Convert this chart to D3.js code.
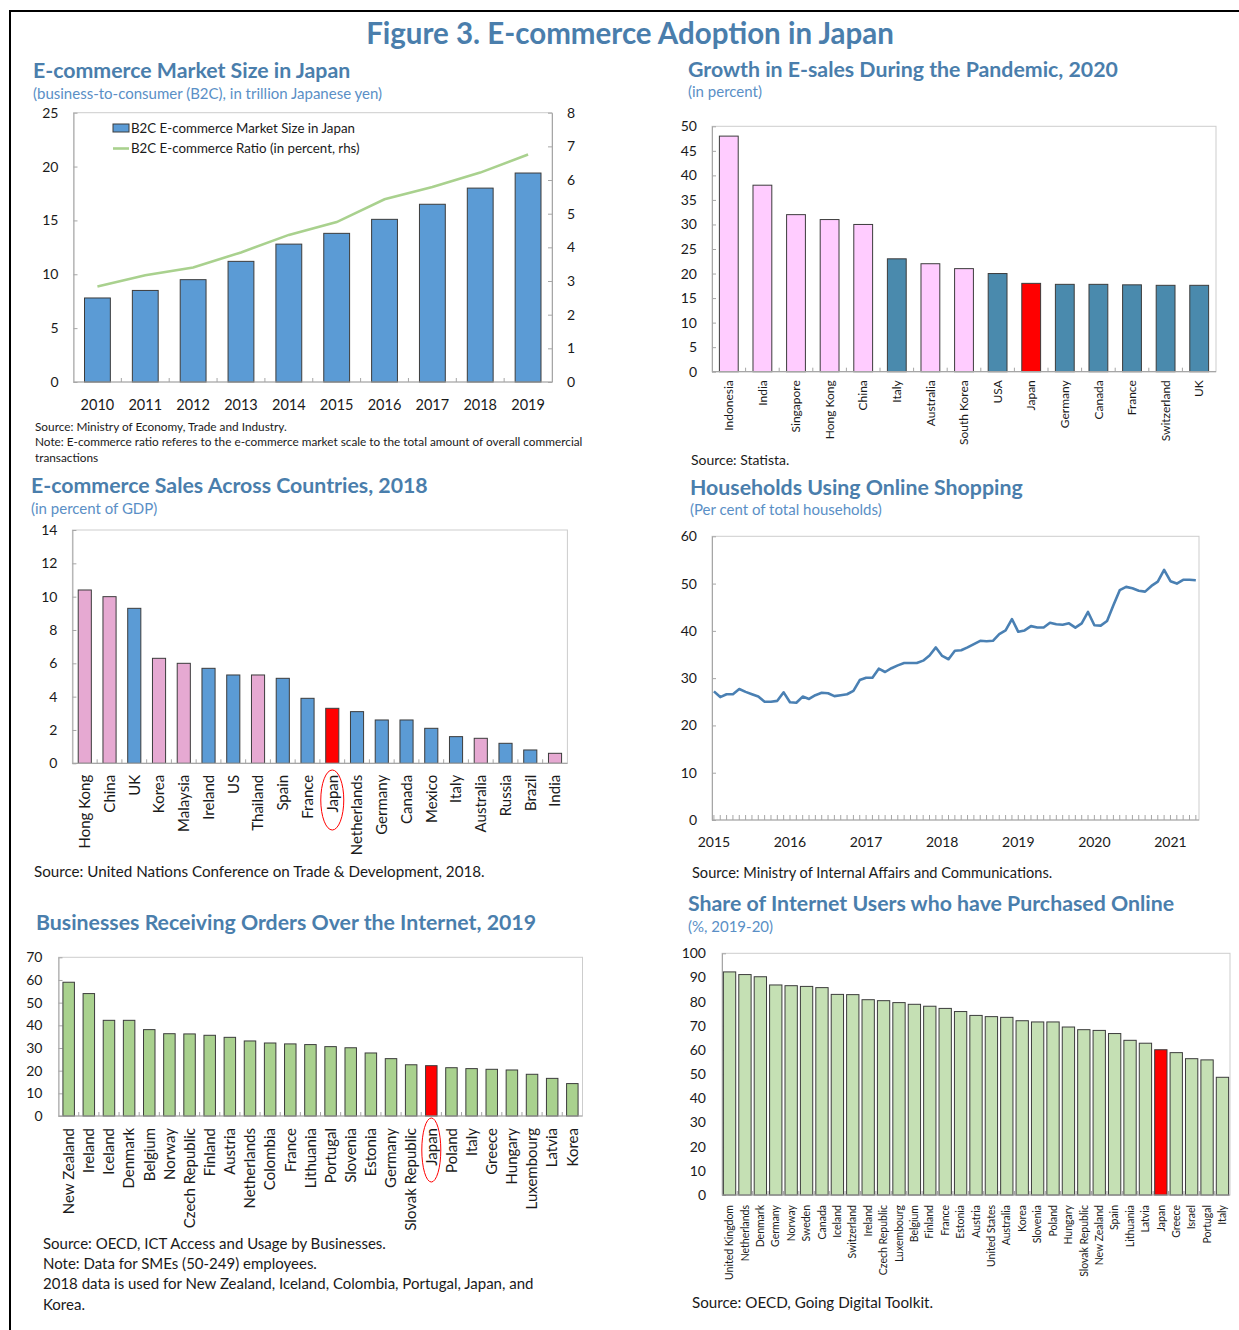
<!DOCTYPE html>
<html>
<head>
<meta charset="utf-8">
<script src="https://cdn.jsdelivr.net/npm/d3@7"></script>
<style>
  body { margin: 0; background: #ffffff; }
  svg text { font-family: Lato, "Open Sans", "DejaVu Sans", sans-serif; }
</style>
</head>
<body>
<svg id="fig" width="1239" height="1330"></svg>
<script>
// ---------- Data ----------
// B2C e-commerce market size (trillion yen) and e-commerce ratio (%)
const marketYears = ["2010","2011","2012","2013","2014","2015","2016","2017","2018","2019"];
const marketSize  = [7.8, 8.5, 9.5, 11.2, 12.8, 13.8, 15.1, 16.5, 18.0, 19.4];
const marketRatio = [2.84, 3.17, 3.40, 3.85, 4.37, 4.75, 5.43, 5.79, 6.22, 6.76];
const marketTicksL = [0, 5, 10, 15, 20, 25];
const marketTicksR = [0, 1, 2, 3, 4, 5, 6, 7, 8];

// Growth in e-sales during the pandemic, 2020 (%)
const growthCountries = ["Indonesia","India","Singapore","Hong Kong","China","Italy","Australia",
  "South Korea","USA","Japan","Germany","Canada","France","Switzerland","UK"];
const growthValues = [48, 38, 32, 31, 30, 23, 22, 21, 20, 18, 17.8, 17.8, 17.7, 17.6, 17.6];
const growthGroup  = ["asia","asia","asia","asia","asia","adv","asia","asia","adv","japan",
  "adv","adv","adv","adv","adv"];
const growthTicks = [0, 5, 10, 15, 20, 25, 30, 35, 40, 45, 50];

// E-commerce sales across countries, 2018 (% of GDP)
const salesCountries = ["Hong Kong","China","UK","Korea","Malaysia","Ireland","US","Thailand","Spain",
  "France","Japan","Netherlands","Germany","Canada","Mexico","Italy","Australia","Russia","Brazil","India"];
const salesValues = [10.4, 10.0, 9.3, 6.3, 6.0, 5.7, 5.3, 5.3, 5.1, 3.9, 3.3, 3.1, 2.6, 2.6, 2.1, 1.6, 1.5, 1.2, 0.8, 0.6];
const salesGroup  = ["asia","asia","adv","asia","asia","adv","adv","asia","adv","adv","japan",
  "adv","adv","adv","adv","adv","asia","adv","adv","asia"];
const salesTicks = [0, 2, 4, 6, 8, 10, 12, 14];

// Households using online shopping, monthly from Jan 2015 (% of households)
const householdYears = ["2015","2016","2017","2018","2019","2020","2021"];
const householdShare = [
  27.2, 26.0, 26.6, 26.6, 27.7, 27.1, 26.6, 26.1, 25.0, 25.0, 25.2, 27.0,
  24.9, 24.8, 26.1, 25.6, 26.4, 26.9, 26.8, 26.2, 26.4, 26.6, 27.3, 29.6,
  30.1, 30.1, 32.0, 31.3, 32.1, 32.7, 33.2, 33.2, 33.2, 33.7, 34.8, 36.5,
  34.7, 34.0, 35.8, 35.9, 36.5, 37.2, 37.9, 37.8, 37.9, 39.3, 40.1, 42.5,
  39.8, 40.1, 41.0, 40.7, 40.7, 41.7, 41.4, 41.3, 41.6, 40.7, 41.6, 44.0,
  41.2, 41.1, 42.1, 45.4, 48.6, 49.3, 49.0, 48.5, 48.3, 49.5, 50.4, 52.9,
  50.5, 50.0, 50.8, 50.8, 50.7
];
const householdTicks = [0, 10, 20, 30, 40, 50, 60];

// Businesses receiving orders over the internet, 2019 (% of SMEs)
const bizCountries = ["New Zealand","Ireland","Iceland","Denmark","Belgium","Norway","Czech Republic",
  "Finland","Austria","Netherlands","Colombia","France","Lithuania","Portugal","Slovenia","Estonia",
  "Germany","Slovak Republic","Japan","Poland","Italy","Greece","Hungary","Luxembourg","Latvia","Korea"];
const bizValues = [59.0, 54.0, 42.2, 42.2, 38.1, 36.3, 36.2, 35.6, 34.7, 33.1, 32.2, 31.8, 31.5,
  30.6, 30.1, 27.8, 25.3, 22.6, 22.2, 21.3, 20.9, 20.6, 20.3, 18.4, 16.6, 14.3];
const bizTicks = [0, 10, 20, 30, 40, 50, 60, 70];

// Share of internet users who have purchased online, 2019-20 (%)
const buyCountries = ["United Kingdom","Netherlands","Denmark","Germany","Norway","Sweden","Canada",
  "Iceland","Switzerland","Ireland","Czech Republic","Luxembourg","Belgium","Finland","France","Estonia",
  "Austria","United States","Australia","Korea","Slovenia","Poland","Hungary","Slovak Republic",
  "New Zealand","Spain","Lithuania","Latvia","Japan","Greece","Israel","Portugal","Italy"];
const buyValues = [92.3, 91.2, 90.3, 86.9, 86.6, 86.3, 85.8, 83.0, 82.9, 80.8, 80.4, 79.6, 78.9, 78.1,
  77.2, 75.9, 74.3, 73.8, 73.5, 72.1, 71.6, 71.6, 69.5, 68.4, 68.1, 66.8, 64.0, 62.8, 60.1, 58.9,
  56.4, 55.9, 48.7];
const buyTicks = [0, 10, 20, 30, 40, 50, 60, 70, 80, 90, 100];

// ---------- Styles ----------
const TITLE_BLUE = "#4a7eac";
const SUB_BLUE = "#5a8fc6";
const BOX = "#cdcdcd";
const AXIS = "#a6a6a6";
const EDGE = "#3c3c3c";
const INK = "#1a1a1a";
const RED = "#ff0000";

const svg = d3.select("#fig");
svg.append("rect").attr("width", 1239).attr("height", 1330).attr("fill", "#ffffff");

// outer figure frame (top and left rules)
svg.append("line").attr("x1", 9).attr("x2", 1239).attr("y1", 11).attr("y2", 11)
  .attr("stroke", "#000").attr("stroke-width", 2);
svg.append("line").attr("x1", 10).attr("x2", 10).attr("y1", 10).attr("y2", 1330)
  .attr("stroke", "#000").attr("stroke-width", 2);

function text(x, y, str, opts = {}) {
  return svg.append("text")
    .attr("x", x).attr("y", y).attr("dy", "0.35em")
    .attr("font-size", opts.size || 14)
    .attr("font-weight", opts.weight || "normal")
    .attr("fill", opts.fill || INK)
    .attr("text-anchor", opts.anchor || "start")
    .text(str);
}

svg.append("text").attr("x", 630).attr("y", 34).attr("dy", "0.35em")
  .attr("text-anchor", "middle").attr("font-size", 29.5).attr("font-weight", "bold")
  .attr("fill", TITLE_BLUE).text("Figure 3. E-commerce Adoption in Japan");

function panelTitle(x, y, str) { return text(x, y, str, { size: 21.3, weight: "bold", fill: TITLE_BLUE }); }
function panelSub(x, y, str) { return text(x, y, str, { size: 15, fill: SUB_BLUE }); }

function styleAxis(g, size) {
  g.select(".domain").attr("stroke", AXIS);
  g.selectAll(".tick line").attr("stroke", AXIS);
  g.selectAll(".tick text").attr("font-size", size).attr("fill", INK)
    .attr("font-family", "Lato, 'Open Sans', sans-serif");
}

function plotBox(g, x0, x1, y0, y1) {
  g.append("rect").attr("x", x0).attr("y", y0).attr("width", x1 - x0).attr("height", y1 - y0)
    .attr("fill", "none").attr("stroke", BOX).attr("stroke-width", 1);
}

// Generic vertical bar panel with rotated category labels
function barPanel(o) {
  const g = svg.append("g");
  const x = d3.scaleBand().domain(o.cats).range([o.x0, o.x1])
    .paddingInner(o.pi).paddingOuter(o.po);
  const y = d3.scaleLinear().domain([0, o.ticks[o.ticks.length - 1]]).range([o.y1, o.y0]);
  plotBox(g, o.x0, o.x1, o.y0, o.y1);

  const ay = g.append("g").attr("transform", `translate(${o.x0},0)`)
    .call(d3.axisLeft(y).tickValues(o.ticks).tickSizeInner(-4).tickSizeOuter(0).tickPadding(o.tp));
  styleAxis(ay, 14);

  g.append("g").selectAll("rect").data(o.vals).join("rect")
    .attr("x", (d, i) => x(o.cats[i]))
    .attr("width", x.bandwidth())
    .attr("y", d => y(d))
    .attr("height", d => y(0) - y(d))
    .attr("fill", (d, i) => o.color(i))
    .attr("stroke", EDGE).attr("stroke-width", 1);

  // baseline and small inside ticks between categories
  g.append("line").attr("x1", o.x0).attr("x2", o.x1).attr("y1", y(0)).attr("y2", y(0))
    .attr("stroke", AXIS).attr("stroke-width", 1.2);
  const gap = (x.step() - x.bandwidth()) / 2;
  g.append("g").selectAll("line").data(o.cats.slice(0, -1)).join("line")
    .attr("x1", c => x(c) + x.bandwidth() + gap).attr("x2", c => x(c) + x.bandwidth() + gap)
    .attr("y1", y(0)).attr("y2", y(0) - 4).attr("stroke", AXIS);

  g.append("g").selectAll("text").data(o.cats).join("text")
    .attr("transform", c => `translate(${x(c) + x.bandwidth() / 2},${o.y1 + o.lg}) rotate(-90)`)
    .attr("text-anchor", "end").attr("dy", "0.35em")
    .attr("font-size", o.lf).attr("fill", INK)
    .text(c => c);
  return { g, x, y };
}

// ---------- Panel 1: market size ----------
panelTitle(33, 71, "E-commerce Market Size in Japan");
panelSub(33, 94, "(business-to-consumer (B2C), in trillion Japanese yen)");
{
  const x0 = 73.5, x1 = 552, y0 = 112.7, y1 = 382;
  const g = svg.append("g");
  const x = d3.scaleBand().domain(marketYears).range([x0, x1]).paddingInner(0.46).paddingOuter(0.23);
  const yL = d3.scaleLinear().domain([0, 25]).range([y1, y0]);
  const yR = d3.scaleLinear().domain([0, 8]).range([y1, y0]);
  plotBox(g, x0, x1, y0, y1);
  const aL = g.append("g").attr("transform", `translate(${x0},0)`)
    .call(d3.axisLeft(yL).tickValues(marketTicksL).tickSizeInner(-4).tickSizeOuter(0).tickPadding(15));
  styleAxis(aL, 14);
  const aR = g.append("g").attr("transform", `translate(${x1},0)`)
    .call(d3.axisRight(yR).tickValues(marketTicksR).tickSizeInner(-4).tickSizeOuter(0).tickPadding(15));
  styleAxis(aR, 14);

  g.append("g").selectAll("rect").data(marketSize).join("rect")
    .attr("x", (d, i) => x(marketYears[i])).attr("width", x.bandwidth())
    .attr("y", d => yL(d)).attr("height", d => yL(0) - yL(d))
    .attr("fill", "#5b9bd5").attr("stroke", EDGE).attr("stroke-width", 1);

  g.append("line").attr("x1", x0).attr("x2", x1).attr("y1", y1).attr("y2", y1)
    .attr("stroke", AXIS).attr("stroke-width", 1.2);
  const gap = (x.step() - x.bandwidth()) / 2;
  g.append("g").selectAll("line").data(marketYears.slice(0, -1)).join("line")
    .attr("x1", c => x(c) + x.bandwidth() + gap).attr("x2", c => x(c) + x.bandwidth() + gap)
    .attr("y1", y1).attr("y2", y1 - 4).attr("stroke", AXIS);

  const line = d3.line().x((d, i) => x(marketYears[i]) + x.bandwidth() / 2).y(d => yR(d));
  g.append("path").datum(marketRatio).attr("d", line)
    .attr("fill", "none").attr("stroke", "#a9d18e").attr("stroke-width", 2.6);

  g.append("g").selectAll("text").data(marketYears).join("text")
    .attr("x", c => x(c) + x.bandwidth() / 2).attr("y", 405).attr("dy", "0.35em")
    .attr("text-anchor", "middle").attr("font-size", 14.5).attr("fill", INK).text(c => c);

  // legend
  g.append("rect").attr("x", 113).attr("y", 124).attr("width", 16).attr("height", 8)
    .attr("fill", "#5b9bd5").attr("stroke", EDGE);
  text(131, 128, "B2C E-commerce Market Size in Japan", { size: 13.3 });
  g.append("line").attr("x1", 113).attr("x2", 129).attr("y1", 148.5).attr("y2", 148.5)
    .attr("stroke", "#a9d18e").attr("stroke-width", 2.6);
  text(131, 148.5, "B2C E-commerce Ratio (in percent, rhs)", { size: 13.3 });
}
text(35, 427, "Source: Ministry of Economy, Trade and Industry.", { size: 11.8 });
text(35, 442, "Note: E-commerce ratio referes to the e-commerce market scale to the total amount of overall commercial", { size: 11.8 });
text(35, 458, "transactions", { size: 11.8 });

// ---------- Panel 2: growth in e-sales ----------
panelTitle(688, 70, "Growth in E-sales During the Pandemic, 2020");
panelSub(688, 92, "(in percent)");
const growthColor = { asia: "#ffccff", adv: "#4a8aad", japan: RED };
barPanel({
  cats: growthCountries, vals: growthValues, ticks: growthTicks,
  color: i => growthColor[growthGroup[i]],
  x0: 712, x1: 1216, y0: 126.3, y1: 371.7, pi: 0.44, po: 0.22, tp: 15, lf: 12, lg: 8.5
});
text(691, 460, "Source: Statista.", { size: 14 });

// ---------- Panel 3: sales across countries ----------
panelTitle(31, 486, "E-commerce Sales Across Countries, 2018");
panelSub(31, 509, "(in percent of GDP)");
const salesColor = { asia: "#e6a9d2", adv: "#5b9bd5", japan: RED };
const p3 = barPanel({
  cats: salesCountries, vals: salesValues, ticks: salesTicks,
  color: i => salesColor[salesGroup[i]],
  x0: 72.4, x1: 567.4, y0: 530, y1: 763.3, pi: 0.47, po: 0.235, tp: 15, lf: 15, lg: 11.5
});
p3.g.append("ellipse")
  .attr("cx", p3.x("Japan") + p3.x.bandwidth() / 2).attr("cy", 800)
  .attr("rx", 11.5).attr("ry", 30)
  .attr("fill", "none").attr("stroke", RED).attr("stroke-width", 1);
text(34, 872, "Source: United Nations Conference on Trade & Development, 2018.", { size: 15.2 });

// ---------- Panel 4: households using online shopping ----------
panelTitle(690, 488, "Households Using Online Shopping");
panelSub(690, 510, "(Per cent of total households)");
{
  const x0 = 712, x1 = 1199, y0 = 536.3, y1 = 820;
  const g = svg.append("g");
  const x = d3.scaleLinear().domain([-0.3, householdShare.length - 0.5]).range([x0, x1]);
  const y = d3.scaleLinear().domain([0, 60]).range([y1, y0]);
  plotBox(g, x0, x1, y0, y1);
  const ay = g.append("g").attr("transform", `translate(${x0},0)`)
    .call(d3.axisLeft(y).tickValues(householdTicks).tickSizeInner(-4).tickSizeOuter(0).tickPadding(15));
  styleAxis(ay, 14);
  g.append("line").attr("x1", x0).attr("x2", x1).attr("y1", y1).attr("y2", y1)
    .attr("stroke", AXIS).attr("stroke-width", 1.2);
  // monthly ticks
  g.append("g").selectAll("line").data(d3.range(householdShare.length)).join("line")
    .attr("x1", i => x(i)).attr("x2", i => x(i)).attr("y1", y1).attr("y2", y1 - 5)
    .attr("stroke", AXIS);
  g.append("path").datum(householdShare)
    .attr("d", d3.line().x((d, i) => x(i)).y(d => y(d)))
    .attr("fill", "none").attr("stroke", "#4a80b3").attr("stroke-width", 2.6)
    .attr("stroke-linejoin", "round");
  g.append("g").selectAll("text").data(householdYears).join("text")
    .attr("x", (d, i) => x(i * 12)).attr("y", 842).attr("dy", "0.35em")
    .attr("text-anchor", "middle").attr("font-size", 14).attr("fill", INK).text(d => d);
}
text(692, 873, "Source: Ministry of Internal Affairs and Communications.", { size: 14.6 });

// ---------- Panel 5: businesses receiving orders ----------
panelTitle(36, 923, "Businesses Receiving Orders Over the Internet, 2019");
const p5 = barPanel({
  cats: bizCountries, vals: bizValues, ticks: bizTicks,
  color: i => bizCountries[i] === "Japan" ? RED : "#a9d18e",
  x0: 58.5, x1: 582.5, y0: 957.3, y1: 1116, pi: 0.43, po: 0.22, tp: 16, lf: 15, lg: 12
});
p5.g.append("ellipse")
  .attr("cx", p5.x("Japan") + p5.x.bandwidth() / 2).attr("cy", 1150)
  .attr("rx", 9.5).attr("ry", 32)
  .attr("fill", "none").attr("stroke", RED).attr("stroke-width", 1);
text(43, 1244, "Source: OECD, ICT Access and Usage by Businesses.", { size: 15 });
text(43, 1264, "Note: Data for SMEs (50-249) employees.", { size: 15 });
text(43, 1284, "2018 data is used for New Zealand, Iceland, Colombia, Portugal, Japan, and", { size: 15 });
text(43, 1305, "Korea.", { size: 15 });

// ---------- Panel 6: internet users purchasing online ----------
panelTitle(688, 904, "Share of Internet Users who have Purchased Online");
panelSub(688, 926.5, "(%, 2019-20)");
barPanel({
  cats: buyCountries, vals: buyValues, ticks: buyTicks,
  color: i => buyCountries[i] === "Japan" ? RED : "#c5e0b4",
  x0: 722, x1: 1230, y0: 953.3, y1: 1195, pi: 0.2, po: 0.09, tp: 16, lf: 10.5, lg: 10
});
text(692, 1303, "Source: OECD, Going Digital Toolkit.", { size: 15.2 });
</script>
</body>
</html>
